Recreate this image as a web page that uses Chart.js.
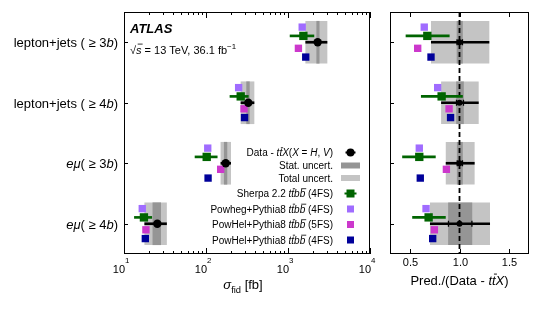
<!DOCTYPE html>
<html><head><meta charset="utf-8">
<script src="https://cdn.jsdelivr.net/npm/chart.js@4.4.1/dist/chart.umd.min.js"></script>
<style>
html,body{margin:0;padding:0;background:#fff;width:540px;height:309px;overflow:hidden}
canvas{position:absolute;top:0}
#c1{left:0;width:380px;height:309px}
#c2{left:380px;width:160px;height:309px}
</style></head>
<body>
<canvas id="c1" width="380" height="309"></canvas>
<canvas id="c2" width="160" height="309"></canvas>
<script>
// ---------------- DATA ----------------
const categories = ['lepton+jets (≥3b)', 'lepton+jets (≥4b)', 'eμ (≥3b)', 'eμ (≥4b)'];
const categoryLabels = ['lepton+jets ( ≥ 3<i>b</i>)', 'lepton+jets ( ≥ 4<i>b</i>)', '<i>eμ</i>( ≥ 3<i>b</i>)', '<i>eμ</i>( ≥ 4<i>b</i>)'];

// left panel: fiducial cross-sections [fb]
const dataXsec   = [2300, 328, 174, 25.5];
const dataStatLo = [2240, 313, 167, 22.5];
const dataStatHi = [2400, 338, 180, 28.0];
const dataTotLo  = [1645, 267, 152, 17.9];
const dataTotHi  = [2990, 385, 200, 33.0];
const sherpaXsec = [1540, 265, 102, 17.5];
const sherpaLo   = [1060, 196, 73.5, 13.4];
const sherpaHi   = [2070, 328, 137, 21.8];
const powhegXsec = [1490, 250, 105, 16.7];
const powhel5Xsec = [1340, 291, 151, 18.5];
const powhel4Xsec = [1645, 295, 106, 18.2];

// right panel: Pred./(Data - ttX)
const ratioTotLo  = [0.716, 0.818, 0.865, 0.706];
const ratioTotHi  = [1.297, 1.190, 1.149, 1.304];
const ratioStatLo = [0.975, 0.970, 0.977, 0.889];
const ratioStatHi = [1.030, 1.040, 1.030, 1.125];
const sherpaRatio   = [0.676, 0.820, 0.595, 0.689];
const sherpaRatioLo = [0.461, 0.615, 0.426, 0.527];
const sherpaRatioHi = [0.897, 1.030, 0.757, 0.858];
const powhegRatio  = [0.645, 0.780, 0.595, 0.663];
const powhel5Ratio = [0.579, 0.895, 0.868, 0.747];
const powhel4Ratio = [0.713, 0.910, 0.605, 0.730];

const xTickValues = [10, 100, 1000, 10000];
const xTickLabels = ['10<sup>1</sup>', '10<sup>2</sup>', '10<sup>3</sup>', '10<sup>4</sup>'];
const rTickValues = [0.5, 1.0, 1.5];
const rTickLabels = ['0.5', '1.0', '1.5'];

const legendLabels = [
  'Data - <i>t<o>t</o>X</i>(<i>X</i> = <i>H</i>, <i>V</i>)',
  'Stat. uncert.',
  'Total uncert.',
  'Sherpa 2.2 <i>t<o>t</o>b<o>b</o></i> (4FS)',
  'Powheg+Pythia8 <i>t<o>t</o>b<o>b</o></i> (4FS)',
  'PowHel+Pythia8 <i>t<o>t</o>b<o>b</o></i> (5FS)',
  'PowHel+Pythia8 <i>t<o>t</o>b<o>b</o></i> (4FS)'
];

// ---------------- STYLE ----------------
const FONT = '"Liberation Sans", Arial, Helvetica, sans-serif';
const C = {stat:'#959595', tot:'#c4c4c4', sherpa:'#006400', powheg:'#a06cff', powhel5:'#cc38cc', powhel4:'#00009a', data:'#000'};
const OFF = {powheg:-0.25, sherpa:-0.105, data:0, powhel5:0.1, powhel4:0.245};

// ---------------- rich text ----------------
function parseRich(s){
  const segs=[]; let it=false, ov=false, sup=false, sub=false, bold=false;
  const re=/<(\/?)(i|o|sup|sub|b)>/g; let last=0, m;
  while((m=re.exec(s))){
    if(m.index>last) segs.push({t:s.slice(last,m.index),it,ov,sup,sub,bold});
    const on=!m[1];
    if(m[2]==='i')it=on; else if(m[2]==='o')ov=on; else if(m[2]==='sup')sup=on; else if(m[2]==='sub')sub=on; else bold=on;
    last=re.lastIndex;
  }
  if(last<s.length) segs.push({t:s.slice(last),it,ov,sup,sub,bold});
  return segs;
}
function segFont(sg,size){ const sz=(sg.sup||sg.sub)?size*0.72:size; return `${sg.it?'italic ':''}${sg.bold?'bold ':''}${sz}px ${FONT}`; }
function drawRich(ctx,s,x,y,size,align,opt){
  opt=opt||{};
  const segs=parseRich(s); let w=0;
  segs.forEach(sg=>{ctx.font=segFont(sg,size); sg.w=ctx.measureText(sg.t).width; w+=sg.w;});
  let cx = align==='right'? x-w : align==='center'? x-w/2 : x;
  ctx.textAlign='left'; ctx.textBaseline='alphabetic';
  segs.forEach(sg=>{
    ctx.font=segFont(sg,size);
    const dy = sg.sup? -(opt.supDy||size*0.42) : sg.sub? size*0.28 : 0;
    ctx.fillText(sg.t,cx,y+dy);
    if(sg.ov){
      const sh = sg.it? size*0.12 : 0;
      ctx.save(); ctx.strokeStyle=ctx.fillStyle; ctx.lineWidth=Math.max(0.8,size*0.07);
      const oy=y+dy-size*(opt.ovH||0.84);
      ctx.beginPath(); ctx.moveTo(cx+sh+size*0.03,oy); ctx.lineTo(cx+sg.w+sh-size*0.02,oy); ctx.stroke(); ctx.restore();
    }
    cx+=sg.w;
  });
  return w;
}
function hline(ctx,x1,y1,x2,y2){ctx.beginPath();ctx.moveTo(x1,y1);ctx.lineTo(x2,y2);ctx.stroke();}

// ---------------- dataset builders ----------------
function rangeDS(lo,hi,off,color,th,order){
  return {type:'bar', indexAxis:'y', grouped:false, data:categories.map((c,i)=>({x:[lo[i],hi[i]], y:i+off})),
          backgroundColor:color, borderWidth:0, barThickness:th, order};
}
function markerDS(vals,off,color,style,r,order){
  return {type:'scatter', data:categories.map((c,i)=>({x:vals[i], y:i+off})), backgroundColor:color, borderColor:color,
          borderWidth:0, pointStyle:style, pointRadius:r, pointHoverRadius:r, order};
}
const yScale = {type:'linear', min:-0.5, max:3.5, reverse:true, offset:false, display:false, grid:{offset:false}};
const common = {responsive:false, animation:false, devicePixelRatio:1, events:[],
  plugins:{legend:{display:false}, tooltip:{enabled:false}}};

// ---------------- left chart ----------------
const leftDeco = {id:'leftDeco', afterDraw(chart){
  const {ctx, chartArea:a, scales:{x,y}} = chart;
  ctx.save();
  ctx.strokeStyle='#000'; ctx.fillStyle='#000'; ctx.lineWidth=1;
  ctx.strokeRect(a.left+0.5, a.top+0.5, a.right-a.left-1, a.bottom-a.top-1);
  xTickValues.forEach((v,k)=>{
    const px=Math.round(x.getPixelForValue(v))+0.5;
    hline(ctx,px,a.bottom,px,a.bottom-6); hline(ctx,px,a.top,px,a.top+6);
    if(k<xTickValues.length-1){
      for(let m=2;m<=9;m++){
        const q=Math.round(x.getPixelForValue(v*m))+0.5;
        hline(ctx,q,a.bottom,q,a.bottom-3); hline(ctx,q,a.top,q,a.top+3);
      }
    }
    ctx.font=`11px ${FONT}`; const w10=ctx.measureText('10').width;
    drawRich(ctx,xTickLabels[k],px-w10+0.5,273,11,'left',{supDy:10});
  });
  categories.forEach((c,i)=>{
    const py=Math.round(y.getPixelForValue(i))+0.5;
    hline(ctx,a.left,py,a.left+4,py);
    drawRich(ctx,categoryLabels[i],a.left-6,py+4.5,13,'right');
  });
  drawRich(ctx,'<i>σ</i><sub>fid</sub> [fb]',(a.left+a.right)/2-4,289,13,'center');
  ctx.font=`italic bold 13px ${FONT}`; ctx.textAlign='left'; ctx.fillText('ATLAS',130,33);
  drawRich(ctx,'√<o><i>s</i></o> = 13 TeV, 36.1 fb<sup>−1</sup>',130,54,11,'left',{supDy:5,ovH:0.9});
  const rows=[152.5,165.5,178,193.5,209,224.5,240];
  const mx=350.5, tx=333;
  legendLabels.forEach((l,k)=>{
    const cy=rows[k];
    ctx.fillStyle='#000';
    drawRich(ctx,l,tx,cy+3.6,10,'right');
    if(k===0){ ctx.lineWidth=2; hline(ctx,mx-5,cy,mx+5,cy); ctx.beginPath(); ctx.arc(mx,cy,4,0,Math.PI*2); ctx.fill(); }
    else if(k===1){ ctx.fillStyle=C.stat; ctx.fillRect(341,cy-3,19,6); }
    else if(k===2){ ctx.fillStyle=C.tot; ctx.fillRect(341,cy-3,19,6); }
    else {
      const col=[C.sherpa,C.powheg,C.powhel5,C.powhel4][k-3];
      ctx.fillStyle=col; ctx.strokeStyle=col;
      if(k===3){ ctx.lineWidth=2; hline(ctx,mx-6,cy,mx+6,cy); ctx.fillRect(mx-4,cy-4,8,8); }
      else ctx.fillRect(mx-3.5,cy-3.5,7,7);
      ctx.strokeStyle='#000';
    }
  });
  ctx.restore();
}};

new Chart(document.getElementById('c1'), {
  type:'scatter',
  data:{datasets:[
    markerDS(dataXsec, OFF.data, C.data, 'circle', 4.2, 0),
    markerDS(sherpaXsec, OFF.sherpa, C.sherpa, 'rect', 5.9, 1),
    markerDS(powhegXsec, OFF.powheg, C.powheg, 'rect', 5.2, 2),
    markerDS(powhel5Xsec, OFF.powhel5, C.powhel5, 'rect', 5.2, 3),
    markerDS(powhel4Xsec, OFF.powhel4, C.powhel4, 'rect', 5.2, 4),
    rangeDS(sherpaLo, sherpaHi, OFF.sherpa, C.sherpa, 2, 5),
    rangeDS(dataTotLo, dataTotHi, OFF.data, C.data, 2, 6),
    rangeDS(dataStatLo, dataStatHi, OFF.data, C.stat, 42, 8),
    rangeDS(dataTotLo, dataTotHi, OFF.data, C.tot, 42, 9)
  ]},
  options:Object.assign({}, common, {
    layout:{padding:{left:124, top:12, right:10, bottom:55}},
    scales:{x:{type:'logarithmic', min:10, max:10000, display:false}, y:yScale}
  }),
  plugins:[leftDeco]
});

// ---------------- right chart ----------------
const rightDeco = {id:'rightDeco', afterDraw(chart){
  const {ctx, chartArea:a, scales:{x,y}} = chart;
  ctx.save();
  ctx.strokeStyle='#000'; ctx.fillStyle='#000'; ctx.lineWidth=1;
  ctx.strokeRect(a.left+0.5, a.top+0.5, a.right-a.left-1, a.bottom-a.top-1);
  rTickValues.forEach((v,k)=>{
    const px=Math.round(x.getPixelForValue(v))+0.5;
    hline(ctx,px,a.bottom,px,a.bottom-5); hline(ctx,px,a.top,px,a.top+5);
    drawRich(ctx,rTickLabels[k],px,266,11,'center');
  });
  categories.forEach((c,i)=>{
    const py=Math.round(y.getPixelForValue(i))+0.5;
    hline(ctx,a.left,py,a.left+4,py);
  });
  drawRich(ctx,'Pred./(Data - <i>t<o>t</o>X</i>)',x.getPixelForValue(1.0),285,13,'center');
  ctx.restore();
}};

const statTicks = {type:'scatter', data:categories.flatMap((c,i)=>[{x:ratioStatLo[i],y:i},{x:ratioStatHi[i],y:i}]),
  pointStyle:'line', rotation:90, pointRadius:3, borderColor:'#000', borderWidth:1.3, order:0};

new Chart(document.getElementById('c2'), {
  type:'scatter',
  data:{datasets:[
    markerDS(categories.map(()=>1.0), OFF.data, C.data, 'circle', 3, 0),
    statTicks,
    markerDS(sherpaRatio, OFF.sherpa, C.sherpa, 'rect', 5.9, 1),
    markerDS(powhegRatio, OFF.powheg, C.powheg, 'rect', 5.2, 2),
    markerDS(powhel5Ratio, OFF.powhel5, C.powhel5, 'rect', 5.2, 3),
    markerDS(powhel4Ratio, OFF.powhel4, C.powhel4, 'rect', 5.2, 4),
    rangeDS(sherpaRatioLo, sherpaRatioHi, OFF.sherpa, C.sherpa, 2, 5),
    rangeDS(ratioTotLo, ratioTotHi, OFF.data, C.data, 2, 6),
    {type:'line', data:[{x:1,y:-0.5},{x:1,y:3.5}], borderColor:'#000', borderWidth:1.8, borderDash:[5,3], pointRadius:0, fill:false, order:7},
    rangeDS(ratioStatLo, ratioStatHi, OFF.data, C.stat, 42, 8),
    rangeDS(ratioTotLo, ratioTotHi, OFF.data, C.tot, 42, 9)
  ]},
  options:Object.assign({}, common, {
    layout:{padding:{left:10, top:12, right:11, bottom:55}},
    scales:{x:{type:'linear', min:0.3, max:1.7, display:false}, y:yScale}
  }),
  plugins:[rightDeco]
});
</script></body></html>
